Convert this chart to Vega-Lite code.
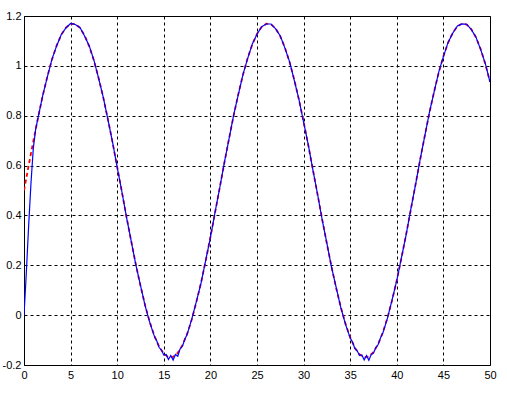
{
  "$schema": "https://vega.github.io/schema/vega-lite/v6.json",
  "width": 466,
  "height": 349,
  "autosize": {"type": "none"},
  "padding": {"left": 24, "top": 16, "right": 17, "bottom": 28},
  "background": "white",
  "config": {
    "view": {"stroke": "black", "strokeWidth": 1},
    "axis": {
      "labelFont": "Liberation Sans",
      "labelFontSize": 11,
      "labelColor": "black",
      "domain": false,
      "ticks": false,
      "grid": true,
      "gridColor": "black",
      "gridOpacity": 1,
      "gridDash": [3, 3],
      "gridWidth": 1,
      "title": null
    }
  },
  "datasets": {
    "red": [
      {"x":0,"y":0.5},{"x":0.5,"y":0.6001},{"x":1,"y":0.698},{"x":1.5,"y":0.7915},{"x":2,"y":0.8783},{"x":2.5,"y":0.9567},{"x":3,"y":1.0248},{"x":3.5,"y":1.0812},{"x":4,"y":1.1245},{"x":4.5,"y":1.1537},{"x":5,"y":1.1683},{"x":5.5,"y":1.1679},{"x":6,"y":1.1525},{"x":6.5,"y":1.1224},{"x":7,"y":1.0783},{"x":7.5,"y":1.0213},{"x":8,"y":0.9526},{"x":8.5,"y":0.8737},{"x":9,"y":0.7864},{"x":9.5,"y":0.6926},{"x":10,"y":0.5945},{"x":10.5,"y":0.4944},{"x":11,"y":0.3943},{"x":11.5,"y":0.2967},{"x":12,"y":0.2035},{"x":12.5,"y":0.117},{"x":13,"y":0.0392},{"x":13.5,"y":-0.0283},{"x":14,"y":-0.084},{"x":14.5,"y":-0.1264},{"x":15,"y":-0.1549},{"x":15.5,"y":-0.1687},{"x":16,"y":-0.1675},{"x":16.5,"y":-0.1512},{"x":17,"y":-0.1203},{"x":17.5,"y":-0.0755},{"x":18,"y":-0.0178},{"x":18.5,"y":0.0532},{"x":19,"y":0.131},{"x":19.5,"y":0.2189},{"x":20,"y":0.3128},{"x":20.5,"y":0.411},{"x":21,"y":0.5113},{"x":21.5,"y":0.6112},{"x":22,"y":0.7087},{"x":22.5,"y":0.8015},{"x":23,"y":0.8875},{"x":23.5,"y":0.9649},{"x":24,"y":1.0318},{"x":24.5,"y":1.0866},{"x":25,"y":1.1285},{"x":25.5,"y":1.1561},{"x":26,"y":1.169},{"x":26.5,"y":1.1669},{"x":27,"y":1.1498},{"x":27.5,"y":1.1182},{"x":28,"y":1.0726},{"x":28.5,"y":1.0142},{"x":29,"y":0.9442},{"x":29.5,"y":0.8645},{"x":30,"y":0.7761},{"x":30.5,"y":0.6819},{"x":31,"y":0.5834},{"x":31.5,"y":0.4831},{"x":32,"y":0.3832},{"x":32.5,"y":0.2859},{"x":33,"y":0.1935},{"x":33.5,"y":0.1079},{"x":34,"y":0.0311},{"x":34.5,"y":-0.0351},{"x":35,"y":-0.0894},{"x":35.5,"y":-0.1303},{"x":36,"y":-0.1572},{"x":36.5,"y":-0.1693},{"x":37,"y":-0.1662},{"x":37.5,"y":-0.1484},{"x":38,"y":-0.1159},{"x":38.5,"y":-0.0696},{"x":39,"y":-0.0105},{"x":39.5,"y":0.0601},{"x":40,"y":0.1405},{"x":40.5,"y":0.2293},{"x":41,"y":0.3238},{"x":41.5,"y":0.4223},{"x":42,"y":0.5225},{"x":42.5,"y":0.6224},{"x":43,"y":0.7194},{"x":43.5,"y":0.8115},{"x":44,"y":0.8967},{"x":44.5,"y":0.973},{"x":45,"y":1.0385},{"x":45.5,"y":1.0921},{"x":46,"y":1.1323},{"x":46.5,"y":1.1583},{"x":47,"y":1.1695},{"x":47.5,"y":1.1657},{"x":48,"y":1.147},{"x":48.5,"y":1.1139},{"x":49,"y":1.067},{"x":49.5,"y":1.007},{"x":50,"y":0.9357}
    ],
    "blue": [
      {"x":0,"y":0},{"x":0.25,"y":0.17},{"x":0.5,"y":0.36},{"x":0.75,"y":0.53},{"x":1,"y":0.67},{"x":1.25,"y":0.745},{"x":1.5,"y":0.79},{"x":2,"y":0.88},{"x":2.5,"y":0.955},{"x":3,"y":1.027},{"x":3.5,"y":1.08},{"x":4,"y":1.126},{"x":4.5,"y":1.152},{"x":5,"y":1.17},{"x":5.5,"y":1.166},{"x":6,"y":1.154},{"x":6.5,"y":1.12},{"x":7,"y":1.08},{"x":7.5,"y":1.023},{"x":8,"y":0.951},{"x":8.5,"y":0.875},{"x":9,"y":0.785},{"x":9.5,"y":0.694},{"x":10,"y":0.593},{"x":10.5,"y":0.496},{"x":11,"y":0.392},{"x":11.5,"y":0.298},{"x":12,"y":0.202},{"x":12.5,"y":0.119},{"x":13,"y":0.037},{"x":13.5,"y":-0.03},
      {"x":14,"y":-0.086},{"x":14.25,"y":-0.104},{"x":14.5,"y":-0.13},{"x":14.75,"y":-0.14},{"x":15,"y":-0.16},{"x":15.25,"y":-0.158},{"x":15.5,"y":-0.178},{"x":15.75,"y":-0.162},{"x":16,"y":-0.18},{"x":16.25,"y":-0.158},{"x":16.5,"y":-0.165},{"x":16.75,"y":-0.135},{"x":17,"y":-0.125},{"x":17.25,"y":-0.097},{"x":17.5,"y":-0.078},
      {"x":18,"y":-0.016},{"x":18.5,"y":0.055},{"x":19,"y":0.129},{"x":19.5,"y":0.221},{"x":20,"y":0.311},{"x":20.5,"y":0.413},{"x":21,"y":0.51},{"x":21.5,"y":0.613},{"x":22,"y":0.707},{"x":22.5,"y":0.803},{"x":23,"y":0.886},{"x":23.5,"y":0.966},{"x":24,"y":1.03},{"x":24.5,"y":1.088},{"x":25,"y":1.127},{"x":25.5,"y":1.157},{"x":26,"y":1.168},{"x":26.5,"y":1.168},{"x":27,"y":1.148},{"x":27.5,"y":1.12},{"x":28,"y":1.071},{"x":28.5,"y":1.016},{"x":29,"y":0.942},{"x":29.5,"y":0.866},{"x":30,"y":0.774},{"x":30.5,"y":0.684},{"x":31,"y":0.582},{"x":31.5,"y":0.485},{"x":32,"y":0.381},{"x":32.5,"y":0.288},{"x":33,"y":0.192},{"x":33.5,"y":0.11},{"x":34,"y":0.029},{"x":34.5,"y":-0.037},
      {"x":35,"y":-0.092},{"x":35.25,"y":-0.108},{"x":35.5,"y":-0.134},{"x":35.75,"y":-0.143},{"x":36,"y":-0.162},{"x":36.25,"y":-0.16},{"x":36.5,"y":-0.18},{"x":36.75,"y":-0.162},{"x":37,"y":-0.181},{"x":37.25,"y":-0.158},{"x":37.5,"y":-0.152},{"x":37.75,"y":-0.13},{"x":38,"y":-0.118},{"x":38.25,"y":-0.092},{"x":38.5,"y":-0.072},
      {"x":39,"y":-0.012},{"x":39.5,"y":0.062},{"x":40,"y":0.139},{"x":40.5,"y":0.231},{"x":41,"y":0.322},{"x":41.5,"y":0.424},{"x":42,"y":0.521},{"x":42.5,"y":0.624},{"x":43,"y":0.718},{"x":43.5,"y":0.813},{"x":44,"y":0.895},{"x":44.5,"y":0.975},{"x":45,"y":1.037},{"x":45.5,"y":1.094},{"x":46,"y":1.131},{"x":46.5,"y":1.16},{"x":47,"y":1.168},{"x":47.5,"y":1.167},{"x":48,"y":1.145},{"x":48.5,"y":1.115},{"x":49,"y":1.065},{"x":49.5,"y":1.009},{"x":50,"y":0.935}
    ]
  },
  "layer": [
    {
      "data": {"name": "red"},
      "mark": {"type": "line", "color": "#ff0000", "strokeWidth": 1.8, "strokeDash": [4, 3], "clip": true},
      "encoding": {
        "x": {"field": "x", "type": "quantitative", "scale": {"domain": [0, 50], "nice": false, "zero": false},
          "axis": {"values": [0,5,10,15,20,25,30,35,40,45,50], "labelPadding": 4, "labelFlush": false}},
        "y": {"field": "y", "type": "quantitative", "scale": {"domain": [-0.2, 1.2], "nice": false, "zero": false},
          "axis": {"values": [-0.2,0,0.2,0.4,0.6,0.8,1,1.2], "labelPadding": 3, "labelFlush": false,
            "labelExpr": "replace(format(datum.value, '.2~f'), '\u2212', '-')"}}
      }
    },
    {
      "data": {"name": "blue"},
      "mark": {"type": "line", "color": "#0000ff", "strokeWidth": 1.2, "clip": true},
      "encoding": {
        "x": {"field": "x", "type": "quantitative"},
        "y": {"field": "y", "type": "quantitative"}
      }
    }
  ]
}
